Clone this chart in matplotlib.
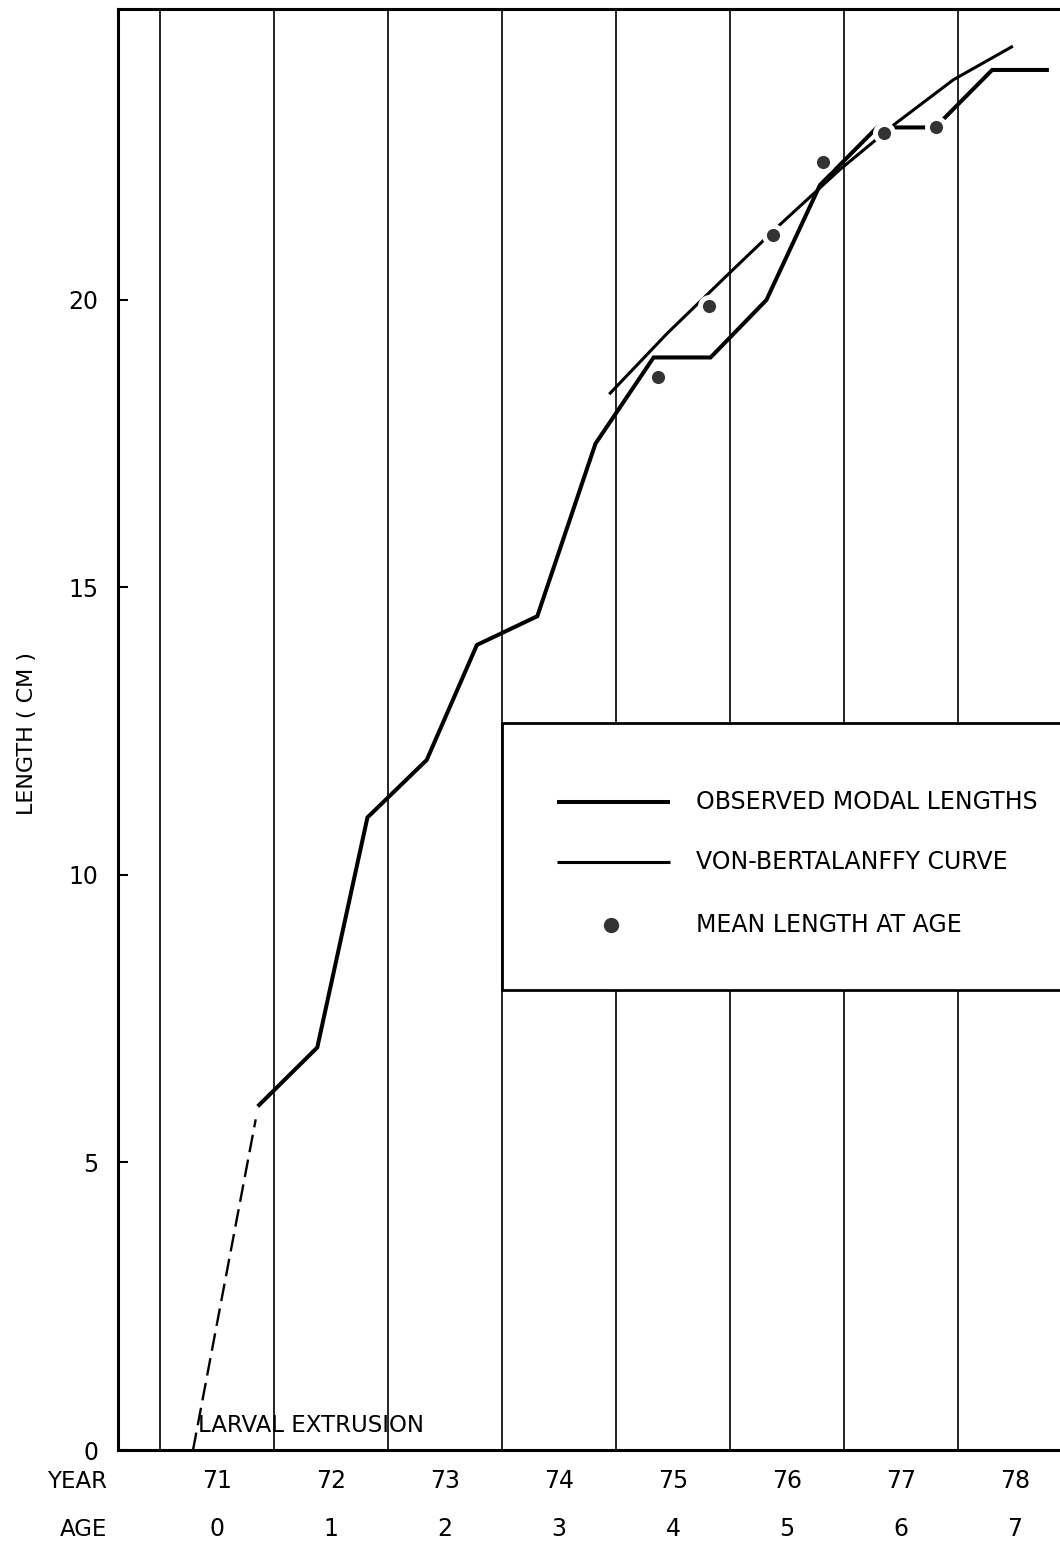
import matplotlib

matplotlib.use("Agg")
import matplotlib.patches as mpatches
import matplotlib.pyplot as plt
from matplotlib.transforms import blended_transform_factory

# ── Data (x = years since start of 1971, vertical rules at year boundaries) ──
YEARS = ["71", "72", "73", "74", "75", "76", "77", "78"]
AGES = ["0", "1", "2", "3", "4", "5", "6", "7"]

LARVA_X = [0.29, 0.84]
LARVA_Y = [0.0, 5.75]

MODAL_X = [0.87, 1.38, 1.82, 2.34, 2.78, 3.31, 3.82, 4.33, 4.83, 5.32, 5.79,
           6.29, 6.80, 7.30, 7.78]
MODAL_Y = [6.0, 7.0, 11.0, 12.0, 14.0, 14.5, 17.5, 19.0, 19.0, 20.0, 22.0,
           23.0, 23.0, 24.0, 24.0]

VB_X = [3.95, 4.45, 4.96, 5.46, 5.96, 6.46, 6.96, 7.47]
VB_Y = [18.38, 19.42, 20.40, 21.35, 22.26, 23.08, 23.83, 24.40]

MEAN_X = [4.37, 4.82, 5.38, 5.82, 6.35, 6.81]
MEAN_Y = [18.66, 19.90, 21.13, 22.40, 22.90, 23.00]

LEGEND_LABELS = ["OBSERVED MODAL LENGTHS", "VON-BERTALANFFY CURVE",
                 "MEAN LENGTH AT AGE"]

XMIN, XMAX = -0.368, 7.895
YMIN, YMAX = 0, 25.06

plt.rcParams.update({"font.family": "DejaVu Sans", "font.size": 16})

# ── Figure ─────────────────────────────────────────────────────────────────
fig = plt.figure(figsize=(10.6, 15.43), dpi=100)
fig.patch.set_facecolor("white")
ax = fig.add_axes([118 / 1060, 93 / 1543, 942 / 1060, 1441 / 1543])
ax.set_xlim(XMIN, XMAX)
ax.set_ylim(YMIN, YMAX)

# year boundary rules
for i in range(len(YEARS)):
    ax.axvline(i, color="black", lw=1.2, zorder=1)

# legend panel covering the rules
box = mpatches.Rectangle((3, 8.0), XMAX - 3 + 0.5, 4.64, facecolor="white",
                         edgecolor="black", lw=2.0, zorder=2)
ax.add_patch(box)

# curves
ax.plot(LARVA_X, LARVA_Y, color="black", lw=1.7, ls=(0, (7.5, 3.2)),
        zorder=3, solid_capstyle="butt")
ax.plot(MODAL_X, MODAL_Y, color="black", lw=2.9, zorder=3,
        solid_joinstyle="miter")
ax.plot(VB_X, VB_Y, color="black", lw=2.2, zorder=3)
ax.plot(MEAN_X, MEAN_Y, ls="none", marker="o", ms=13, mfc="#333333",
        mec="white", mew=3.5, zorder=4)

# ── Legend (drawn by hand, like the original) ──────────────────────────────
leg_y = [11.27, 10.23, 9.13]
ax.plot([3.48, 4.47], [leg_y[0]] * 2, color="black", lw=2.9, zorder=5,
        solid_capstyle="butt")
ax.plot([3.48, 4.47], [leg_y[1]] * 2, color="black", lw=2.2, zorder=5,
        solid_capstyle="butt")
ax.plot([3.96], [leg_y[2]], ls="none", marker="o", ms=11, mfc="#333333",
        mec="none", zorder=5)
for y, lab in zip(leg_y, LEGEND_LABELS):
    ax.text(4.70, y, lab, fontsize=17, ha="left", va="center", zorder=5)

ax.text(0.33, 0.31, "LARVAL EXTRUSION", fontsize=16.5, ha="left",
        va="baseline", zorder=5)

# ── Axes styling ───────────────────────────────────────────────────────────
for side in ["left", "bottom", "top"]:
    ax.spines[side].set_linewidth(2.2)
ax.spines["right"].set_visible(False)

ax.set_yticks([0, 5, 10, 15, 20])
ax.tick_params(axis="y", direction="in", length=7, width=1.5,
               labelsize=17, pad=14)
ax.set_xticks([])

trans = blended_transform_factory(ax.transData, ax.transAxes)
for i, (yr, age) in enumerate(zip(YEARS, AGES)):
    ax.text(i + 0.5, -0.0215, yr, transform=trans, ha="center", va="center",
            fontsize=17)
    ax.text(i + 0.5, -0.0548, age, transform=trans, ha="center", va="center",
            fontsize=17)

fig.text(107 / 1060, 1 - 1482 / 1543, "YEAR", ha="right", va="center",
         fontsize=16.5)
fig.text(107 / 1060, 1 - 1529 / 1543, "AGE", ha="right", va="center",
         fontsize=16.5)
fig.text(27 / 1060, 1 - 733 / 1543, "LENGTH ( CM )", rotation=90,
         ha="center", va="center", fontsize=16)

fig.savefig("out.png", dpi=100)
plt.close()
